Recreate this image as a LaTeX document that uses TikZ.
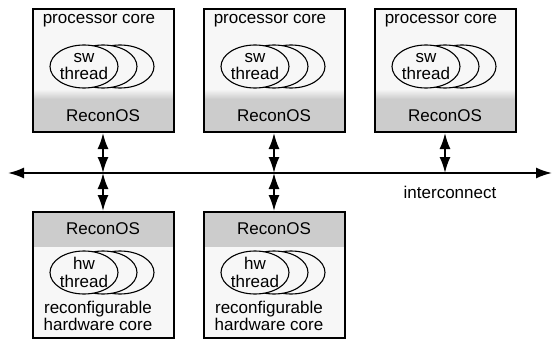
\documentclass[tikz,border=0pt]{standalone}
\usepackage{fontspec}
\setmainfont{Liberation Sans}
\usetikzlibrary{shapes.geometric,arrows.meta}

\begin{document}
\begin{tikzpicture}[
            x=1pt, y=1pt,
            node distance=171pt,
            cpubox/.style={rectangle, draw, line width=2pt, fill=gray!6, minimum width=141pt, minimum height=123pt,
                path picture={\fill[gray!40] (path picture bounding box.south west) rectangle ([yshift=33pt]path picture bounding box.south east);
                              \shade[top color=gray!6, bottom color=gray!40] ([yshift=33pt]path picture bounding box.south west) rectangle ([yshift=43pt]path picture bounding box.south east);}},
            hwbox/.style={rectangle, draw, line width=2pt, fill=gray!6, minimum width=141pt, minimum height=126pt,
                path picture={\fill[gray!40] (path picture bounding box.north west) rectangle ([yshift=-35pt]path picture bounding box.north east);}},
            thread/.style={ellipse, draw, line width=1.1pt, fill=gray!6, minimum width=68pt, minimum height=43pt, inner sep=0pt},
            txt/.style={font=\fontsize{17}{17.5}\selectfont, inner sep=0pt, align=center},
            link/.style={{Latex[length=16pt,width=11pt]}-{Latex[length=16pt,width=11pt]}, line width=1.8pt}
            ]
            \useasboundingbox (0,0) rectangle (554,341);

            % Processor cores
            \node[cpubox] (cpu1) at (103,270.5) {};
            \node[cpubox, right of=cpu1] (cpu2) {};
            \node[cpubox, right of=cpu2] (cpu3) {};

            % Hardware cores
            \node[hwbox, below of=cpu1, yshift=-33.5pt] (hw1) {};
            \node[hwbox, below of=cpu2, yshift=-33.5pt] (hw2) {};

            % Threads and texts
            \foreach \n in {cpu1,cpu2,cpu3} {
                \node[txt] (\n-title) at ([shift={(-4,-13)}]\n.north) {processor core};
                \node[thread] (\n-t3) at ([shift={(17,4)}]\n.center) {};
                \node[thread] (\n-t2) at ([shift={(0,4)}]\n.center) {};
                \node[thread] (\n-t1) at ([shift={(-19,4)}]\n.center) {};
                \node[txt] (\n-sw) at (\n-t1) {sw\\thread};
                \node[txt] (\n-os) at ([yshift=17pt]\n.south) {ReconOS};
            }
            \foreach \n in {hw1,hw2} {
                \node[txt] (\n-os) at ([yshift=-18pt]\n.north) {ReconOS};
                \node[thread] (\n-t3) at ([shift={(17,2.5)}]\n.center) {};
                \node[thread] (\n-t2) at ([shift={(0,2.5)}]\n.center) {};
                \node[thread] (\n-t1) at ([shift={(-19,2.5)}]\n.center) {};
                \node[txt] (\n-hw) at (\n-t1) {hw\\thread};
                \node[txt] (\n-title) at ([shift={(-5,23)}]\n.south) {reconfigurable\\hardware core};
            }

            % Interconnect
            \coordinate (busL) at (8,168);
            \coordinate (busR) at (552,168);
            \draw[link] (busL) -- (busR);
            \node[txt] (busLabel) at (450,149) {interconnect};

            % Arrows
            \foreach \n in {cpu1,cpu2,cpu3}
                \draw[link] (\n.south) -- (\n.south |- busL);
            \foreach \n in {hw1,hw2}
                \draw[link] (\n.north |- busL) -- (\n.north);

        \end{tikzpicture}
\end{document}
